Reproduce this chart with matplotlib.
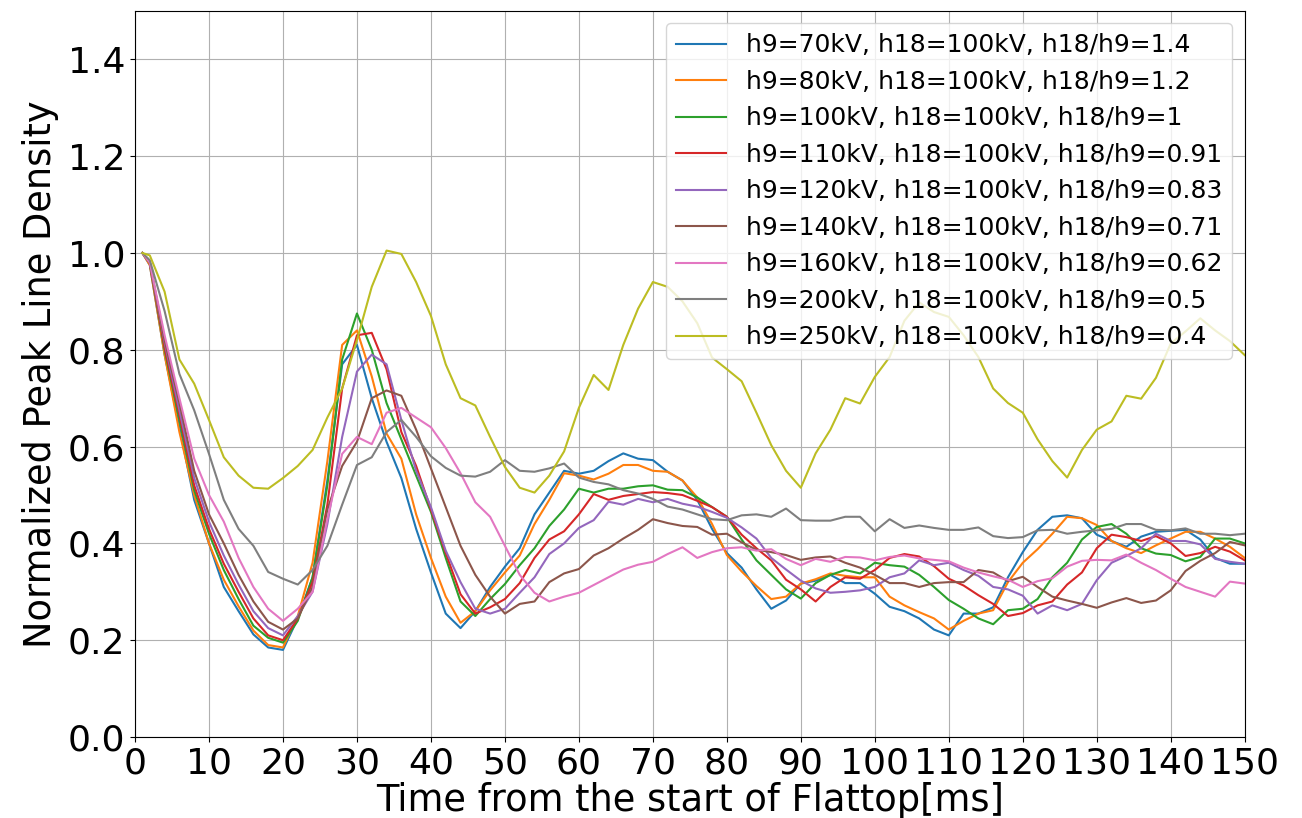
import numpy as np
import matplotlib
matplotlib.use('Agg')
from matplotlib import pyplot as plt

# time axis [ms]: first sample at 1 ms, then every 2 ms
t = np.r_[1, np.arange(2, 151, 2)]

labels = ['h9=70kV, h18=100kV, h18/h9=1.4',
          'h9=80kV, h18=100kV, h18/h9=1.2',
          'h9=100kV, h18=100kV, h18/h9=1',
          'h9=110kV, h18=100kV, h18/h9=0.91',
          'h9=120kV, h18=100kV, h18/h9=0.83',
          'h9=140kV, h18=100kV, h18/h9=0.71',
          'h9=160kV, h18=100kV, h18/h9=0.62',
          'h9=200kV, h18=100kV, h18/h9=0.5',
          'h9=250kV, h18=100kV, h18/h9=0.4']

h9_70 = [1.0, 0.975, 0.79, 0.64, 0.49, 0.40, 0.31, 0.26, 0.212, 0.185, 0.18, 0.245, 0.33, 0.53, 0.77, 0.81,
         0.70, 0.61, 0.535, 0.43, 0.34, 0.255, 0.225, 0.26, 0.31, 0.352,
         0.39, 0.46, 0.505, 0.55, 0.544, 0.55, 0.57, 0.586, 0.575, 0.572, 0.548, 0.53, 0.49, 0.43, 0.38,
         0.35, 0.305, 0.265, 0.282, 0.317, 0.323, 0.335, 0.318, 0.318, 0.296,
         0.269, 0.26, 0.245, 0.222, 0.21, 0.255, 0.255, 0.268, 0.33, 0.382, 0.428, 0.455, 0.458, 0.452,
         0.418, 0.405, 0.393, 0.414, 0.424, 0.426, 0.428, 0.408, 0.37, 0.358, 0.358]
h9_80 = [1.0, 0.975, 0.79, 0.63, 0.50, 0.40, 0.325, 0.27, 0.22, 0.19, 0.185, 0.25, 0.36, 0.57, 0.81, 0.84,
         0.745, 0.627, 0.575, 0.46, 0.37, 0.29, 0.236, 0.26, 0.303, 0.34,
         0.375, 0.44, 0.49, 0.545, 0.54, 0.532, 0.544, 0.562, 0.562, 0.55, 0.548, 0.53, 0.495, 0.44, 0.376,
         0.342, 0.312, 0.285, 0.29, 0.317, 0.326, 0.338, 0.333, 0.33, 0.33,
         0.29, 0.272, 0.258, 0.245, 0.222, 0.24, 0.255, 0.262, 0.32, 0.36, 0.388, 0.42, 0.455, 0.452,
         0.438, 0.405, 0.39, 0.38, 0.396, 0.41, 0.424, 0.424, 0.41, 0.393, 0.37]
h9_100 = [1.0, 0.98, 0.80, 0.655, 0.51, 0.42, 0.345, 0.285, 0.23, 0.205, 0.195, 0.24, 0.33, 0.52, 0.78, 0.875,
          0.80, 0.69, 0.615, 0.54, 0.465, 0.37, 0.28, 0.25, 0.285, 0.316,
          0.355, 0.39, 0.436, 0.47, 0.513, 0.505, 0.513, 0.513, 0.518, 0.52, 0.511, 0.51, 0.495, 0.475, 0.455,
          0.408, 0.365, 0.335, 0.305, 0.286, 0.318, 0.335, 0.345, 0.338, 0.36,
          0.355, 0.352, 0.335, 0.31, 0.283, 0.265, 0.245, 0.233, 0.262, 0.265, 0.285, 0.33, 0.36, 0.408,
          0.434, 0.44, 0.42, 0.39, 0.379, 0.376, 0.363, 0.372, 0.41, 0.41, 0.40]
h9_110 = [1.0, 0.98, 0.805, 0.665, 0.52, 0.43, 0.358, 0.30, 0.245, 0.21, 0.20, 0.245, 0.32, 0.48, 0.72, 0.83,
          0.835, 0.76, 0.63, 0.56, 0.47, 0.38, 0.295, 0.255, 0.268, 0.285,
          0.318, 0.37, 0.408, 0.425, 0.46, 0.502, 0.49, 0.498, 0.502, 0.506, 0.504, 0.50, 0.488, 0.475, 0.455,
          0.418, 0.39, 0.365, 0.325, 0.305, 0.28, 0.31, 0.33, 0.327, 0.345,
          0.37, 0.378, 0.373, 0.353, 0.327, 0.313, 0.293, 0.275, 0.25, 0.256, 0.272, 0.28, 0.315, 0.34,
          0.39, 0.418, 0.413, 0.405, 0.415, 0.40, 0.374, 0.38, 0.393, 0.383, 0.365]
h9_120 = [1.0, 0.98, 0.815, 0.675, 0.535, 0.445, 0.375, 0.315, 0.26, 0.225, 0.21, 0.25, 0.30, 0.44, 0.62, 0.755,
          0.79, 0.77, 0.655, 0.55, 0.475, 0.385, 0.32, 0.265, 0.255, 0.265,
          0.298, 0.33, 0.378, 0.40, 0.432, 0.448, 0.486, 0.48, 0.492, 0.485, 0.492, 0.482, 0.476, 0.465, 0.453,
          0.433, 0.41, 0.37, 0.346, 0.323, 0.307, 0.298, 0.30, 0.303, 0.31,
          0.33, 0.338, 0.365, 0.355, 0.36, 0.345, 0.333, 0.31, 0.305, 0.292, 0.255, 0.272, 0.262, 0.275,
          0.324, 0.36, 0.374, 0.39, 0.42, 0.405, 0.405, 0.398, 0.368, 0.362, 0.358]
h9_140 = [1.0, 0.98, 0.82, 0.69, 0.55, 0.46, 0.40, 0.335, 0.28, 0.238, 0.222, 0.245, 0.31, 0.47, 0.56, 0.61,
          0.70, 0.716, 0.705, 0.635, 0.555, 0.475, 0.395, 0.335, 0.29, 0.255,
          0.275, 0.28, 0.32, 0.338, 0.347, 0.375, 0.39, 0.41, 0.428, 0.45, 0.442, 0.436, 0.434, 0.418, 0.42,
          0.402, 0.387, 0.382, 0.376, 0.366, 0.371, 0.373, 0.36, 0.35, 0.335,
          0.318, 0.318, 0.31, 0.318, 0.32, 0.32, 0.345, 0.34, 0.322, 0.331, 0.31, 0.29, 0.282, 0.275,
          0.267, 0.278, 0.287, 0.277, 0.282, 0.303, 0.343, 0.364, 0.38, 0.403, 0.396]
h9_160 = [1.0, 0.98, 0.83, 0.70, 0.575, 0.50, 0.445, 0.37, 0.31, 0.265, 0.24, 0.265, 0.30, 0.45, 0.585, 0.62,
          0.605, 0.67, 0.68, 0.66, 0.64, 0.597, 0.545, 0.485, 0.455, 0.395,
          0.335, 0.298, 0.28, 0.29, 0.298, 0.314, 0.33, 0.346, 0.356, 0.362, 0.378, 0.392, 0.37, 0.382, 0.39,
          0.392, 0.385, 0.388, 0.368, 0.355, 0.368, 0.362, 0.372, 0.371, 0.365,
          0.372, 0.375, 0.369, 0.366, 0.363, 0.35, 0.34, 0.332, 0.325, 0.31, 0.322, 0.328, 0.352, 0.364,
          0.366, 0.365, 0.377, 0.36, 0.345, 0.327, 0.31, 0.30, 0.29, 0.321, 0.317]
h9_200 = [1.0, 0.985, 0.88, 0.75, 0.675, 0.585, 0.49, 0.43, 0.395, 0.341, 0.327, 0.315, 0.345, 0.395, 0.48, 0.562,
          0.578, 0.63, 0.655, 0.62, 0.58, 0.556, 0.54, 0.538, 0.548, 0.572,
          0.55, 0.548, 0.555, 0.565, 0.536, 0.527, 0.522, 0.51, 0.503, 0.492, 0.476, 0.47, 0.46, 0.45, 0.448,
          0.458, 0.46, 0.455, 0.472, 0.448, 0.447, 0.447, 0.455, 0.455, 0.425,
          0.45, 0.432, 0.437, 0.432, 0.428, 0.428, 0.433, 0.415, 0.411, 0.413, 0.427, 0.428, 0.42, 0.424,
          0.427, 0.43, 0.44, 0.44, 0.428, 0.427, 0.431, 0.42, 0.42, 0.417, 0.42]
h9_250 = [1.0, 0.995, 0.92, 0.78, 0.73, 0.655, 0.578, 0.54, 0.515, 0.513, 0.535, 0.56, 0.593, 0.66, 0.72, 0.82,
          0.93, 1.005, 0.998, 0.94, 0.87, 0.77, 0.70, 0.685, 0.62, 0.558,
          0.515, 0.505, 0.54, 0.59, 0.68, 0.748, 0.717, 0.81, 0.885, 0.94, 0.93, 0.90, 0.855, 0.784, 0.76,
          0.735, 0.67, 0.603, 0.55, 0.515, 0.586, 0.635, 0.70, 0.689, 0.744,
          0.785, 0.86, 0.898, 0.878, 0.868, 0.83, 0.785, 0.72, 0.69, 0.67, 0.615, 0.57, 0.536, 0.593,
          0.635, 0.652, 0.705, 0.699, 0.742, 0.813, 0.838, 0.865, 0.84, 0.818, 0.789]

series = [h9_70, h9_80, h9_100, h9_110, h9_120, h9_140, h9_160, h9_200, h9_250]

fig = plt.figure(figsize=(13.02, 8.18), dpi=100)
ax = fig.add_axes([0.1037, 0.099, 0.8523, 0.8876])
for y, lab in zip(series, labels):
    ax.plot(t, y, label=lab, linewidth=1.5)

ax.set_xlim(0, 150)
ax.set_ylim(0, 1.5)
ax.set_xticks(np.arange(0, 151, 10))
ax.set_yticks(np.arange(0, 1.41, 0.2))
ax.tick_params(labelsize=26)
ax.set_xlabel('Time from the start of Flattop[ms]', fontsize=26.5, labelpad=1)
ax.set_ylabel('Normalized Peak Line Density', fontsize=26.5, labelpad=6)
ax.grid(True)
ax.legend(loc='upper right', fontsize=18)

fig.savefig('out.png')
